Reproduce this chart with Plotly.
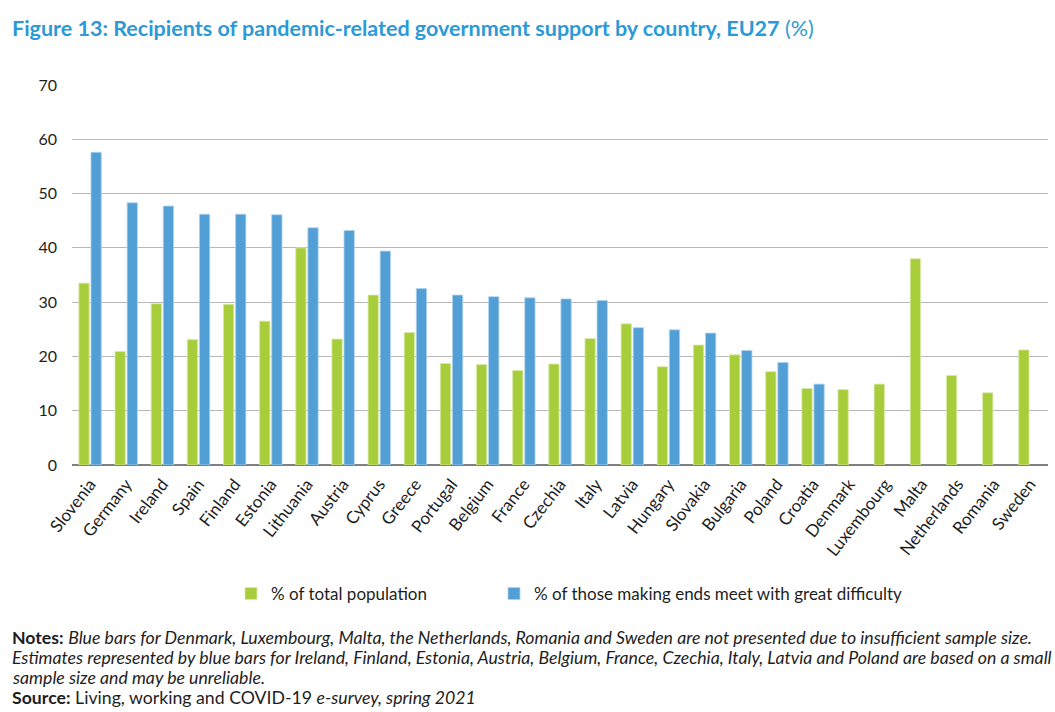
import plotly.graph_objects as go

countries = ["Slovenia", "Germany", "Ireland", "Spain", "Finland", "Estonia", "Lithuania",
             "Austria", "Cyprus", "Greece", "Portugal", "Belgium", "France", "Czechia", "Italy",
             "Latvia", "Hungary", "Slovakia", "Bulgaria", "Poland", "Croatia", "Denmark",
             "Luxembourg", "Malta", "Netherlands", "Romania", "Sweden"]
total_population = [33.5, 20.9, 29.7, 23.1, 29.6, 26.5, 40.0, 23.2, 31.3, 24.4, 18.7, 18.5,
                    17.4, 18.6, 23.3, 26.0, 18.1, 22.1, 20.3, 17.2, 14.1, 13.9, 14.9, 38.0,
                    16.5, 13.3, 21.2]
great_difficulty = [57.6, 48.3, 47.7, 46.2, 46.2, 46.1, 43.7, 43.2, 39.4, 32.5, 31.3, 31.0,
                    30.8, 30.6, 30.3, 25.3, 24.9, 24.3, 21.1, 18.9, 14.9, None, None, None,
                    None, None, None]
y_ticks = [0, 10, 20, 30, 40, 50, 60, 70]

GREEN = "#a8cd3a"
BLUE = "#529fd6"
FONT = "Lato"
TXT = "#1e1e1e"

fig = go.Figure()
fig.add_trace(go.Bar(x=countries, y=total_population, name="% of total population",
                     legend="legend",
                     marker=dict(color=GREEN, line=dict(color="#d9eaa8", width=0.8))))
fig.add_trace(go.Bar(x=countries, y=great_difficulty,
                     name="% of those making ends meet with great difficulty",
                     legend="legend2",
                     marker=dict(color=BLUE, line=dict(color="#b0d3ef", width=0.8))))

PW, PH, L, T = 976, 380, 72, 85


def px(x):
    return (x - L) / PW


def py(y):
    return (T + PH - y) / PH


legend_common = dict(orientation="h", yanchor="middle", xanchor="left",
                     font=dict(family=FONT, size=17, color=TXT), itemclick=False,
                     bgcolor="rgba(0,0,0,0)")

fig.update_layout(
    width=1055, height=712,
    margin=dict(l=L, r=1055 - L - PW, t=T, b=712 - T - PH),
    paper_bgcolor="white", plot_bgcolor="white",
    barmode="group", bargap=0.33, bargroupgap=0.15,
    font=dict(family=FONT, size=15, color=TXT),
    showlegend=True,
    legend=dict(x=px(231), y=py(594), **legend_common),
    legend2=dict(x=px(494), y=py(594), **legend_common),
    xaxis=dict(tickangle=-52, showgrid=False, showline=False, ticks="",
               ticklabelstandoff=5,
               tickfont=dict(family=FONT, size=17, color=TXT)),
    yaxis=dict(range=[0, 70], tickvals=y_ticks, showgrid=True, gridcolor="#b8b8b8",
               gridwidth=1, zeroline=True, zerolinecolor="#808080", zerolinewidth=1.5,
               ticks="", ticklabelstandoff=14,
               tickfont=dict(family=FONT, size=16, color=TXT)),
)

fig.add_annotation(text="<b>Figure 13: Recipients of pandemic-related government support by country, EU27</b> (%)",
                   xref="paper", yref="paper", x=px(10), y=py(28), xanchor="left",
                   yanchor="middle", showarrow=False,
                   font=dict(family=FONT, size=21.5, color="#2b9ad6"))

notes = [
    "<b>Notes:</b> <i>Blue bars for Denmark, Luxembourg, Malta, the Netherlands, Romania and Sweden are not presented due to insufficient sample size.</i>",
    "<i>Estimates represented by blue bars for Ireland, Finland, Estonia, Austria, Belgium, France, Czechia, Italy, Latvia and Poland are based on a small</i>",
    "<i>sample size and may be unreliable.</i>",
    "<b>Source:</b> Living, working and COVID-19 <i>e-survey, spring 2021</i>",
]
note_y = [637, 657, 677, 697]
for txt, ny in zip(notes, note_y):
    fig.add_annotation(text=txt, xref="paper", yref="paper",
                       x=px(10), y=py(ny),
                       xanchor="left", yanchor="middle", showarrow=False,
                       font=dict(family=FONT, size=17.7, color=TXT))

fig.write_html("out.html")
